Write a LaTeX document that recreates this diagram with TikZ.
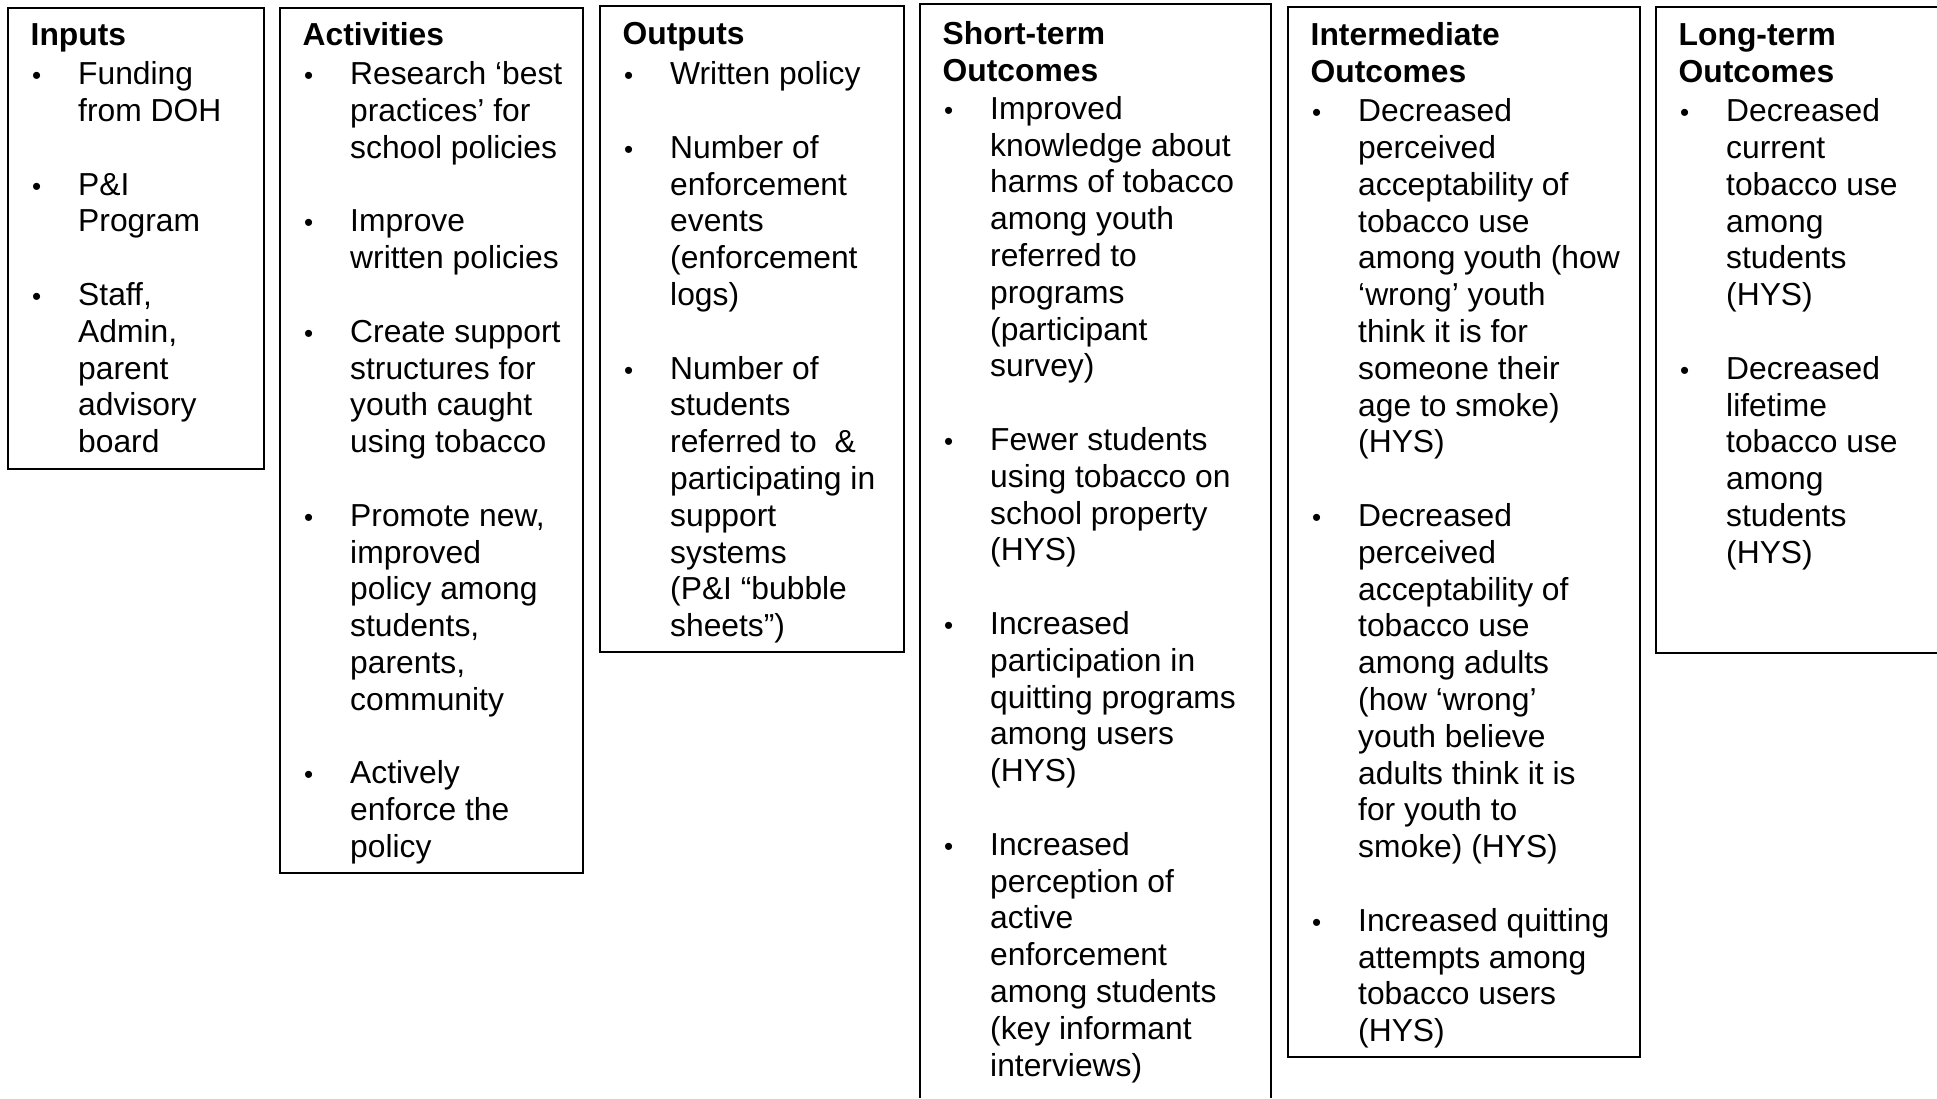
\documentclass[tikz,border=0pt]{standalone}
\usepackage{fontspec}
\setmainfont{Liberation Sans}
\newcommand\bitm{\makebox[0pt]{\fontsize{26}{26}\selectfont •}\hspace*{41.5pt}}
\newcommand\bcnt{\hspace*{41.5pt}}
\tikzset{
  box/.style={draw, line width=2.2pt},
  ttl/.style={anchor=base west, inner sep=0pt, font=\fontsize{31.8}{36.8}\selectfont\bfseries},
  itm/.style={anchor=base west, inner sep=0pt, font=\fontsize{31.8}{36.8}\selectfont}
}
\begin{document}
\begin{tikzpicture}[x=1pt,y=-1pt]
\useasboundingbox[fill=white] (0,0) rectangle (1937,1098);
% boxes
\draw[box] (8,8) rectangle (264,469);
\draw[box] (280,8) rectangle (583,873);
\draw[box] (600,6) rectangle (904,652);
\draw[box] (920,1098) -- (920,4) -- (1271,4) -- (1271,1098);
\draw[box] (1288,7) rectangle (1640,1057);
\draw[box] (1937,7) -- (1656,7) -- (1656,653) -- (1937,653);
% Inputs
\node[ttl] (inT) at (30.5,45.7) {Inputs};
\node[itm] (inL) at (36.5,84.6) {\begin{tabular}[t]{@{}l@{}}
\bitm Funding\\ \bcnt from DOH\\ \\
\bitm P\&I\\ \bcnt Program\\ \\
\bitm Staff,\\ \bcnt Admin,\\ \bcnt parent\\ \bcnt advisory\\ \bcnt board
\end{tabular}};
% Activities
\node[ttl] (acT) at (302.5,45.7) {Activities};
\node[itm] (acL) at (308.5,84.6) {\begin{tabular}[t]{@{}l@{}}
\bitm Research ‘best\\ \bcnt practices’ for\\ \bcnt school policies\\ \\
\bitm Improve\\ \bcnt written policies\\ \\
\bitm Create support\\ \bcnt structures for\\ \bcnt youth caught\\ \bcnt using tobacco\\ \\
\bitm Promote new,\\ \bcnt improved\\ \bcnt policy among\\ \bcnt students,\\ \bcnt parents,\\ \bcnt community\\ \\
\bitm Actively\\ \bcnt enforce the\\ \bcnt policy
\end{tabular}};
% Outputs
\node[ttl] (ouT) at (622.5,44.5) {Outputs};
\node[itm] (ouL) at (628.5,84.6) {\begin{tabular}[t]{@{}l@{}}
\bitm Written policy\\ \\
\bitm Number of\\ \bcnt enforcement\\ \bcnt events\\ \bcnt (enforcement\\ \bcnt logs)\\ \\
\bitm Number of\\ \bcnt students\\ \bcnt referred to\ \ \&\\ \bcnt participating in\\ \bcnt support\\ \bcnt systems\\ \bcnt (P\&I “bubble\\ \bcnt sheets”)
\end{tabular}};
% Short-term
\node[ttl] (stT) at (942.5,44.5) {\begin{tabular}[t]{@{}l@{}}Short-term\\ Outcomes\end{tabular}};
\node[itm] (stL) at (948.5,119.2) {\begin{tabular}[t]{@{}l@{}}
\bitm Improved\\ \bcnt knowledge about\\ \bcnt harms of tobacco\\ \bcnt among youth\\ \bcnt referred to\\ \bcnt programs\\ \bcnt (participant\\ \bcnt survey)\\ \\
\bitm Fewer students\\ \bcnt using tobacco on\\ \bcnt school property\\ \bcnt (HYS)\\ \\
\bitm Increased\\ \bcnt participation in\\ \bcnt quitting programs\\ \bcnt among users\\ \bcnt (HYS)\\ \\
\bitm Increased\\ \bcnt perception of\\ \bcnt active\\ \bcnt enforcement\\ \bcnt among students\\ \bcnt (key informant\\ \bcnt interviews)
\end{tabular}};
% Intermediate
\node[ttl] (imT) at (1310.5,45.7) {\begin{tabular}[t]{@{}l@{}}Intermediate\\ Outcomes\end{tabular}};
\node[itm] (imL) at (1316.5,121.7) {\begin{tabular}[t]{@{}l@{}}
\bitm Decreased\\ \bcnt perceived\\ \bcnt acceptability of\\ \bcnt tobacco use\\ \bcnt among youth (how\\ \bcnt ‘wrong’ youth\\ \bcnt think it is for\\ \bcnt someone their\\ \bcnt age to smoke)\\ \bcnt (HYS)\\ \\
\bitm Decreased\\ \bcnt perceived\\ \bcnt acceptability of\\ \bcnt tobacco use\\ \bcnt among adults\\ \bcnt (how ‘wrong’\\ \bcnt youth believe\\ \bcnt adults think it is\\ \bcnt for youth to\\ \bcnt smoke) (HYS)\\ \\
\bitm Increased quitting\\ \bcnt attempts among\\ \bcnt tobacco users\\ \bcnt (HYS)
\end{tabular}};
% Long-term
\node[ttl] (ltT) at (1678.5,45.7) {\begin{tabular}[t]{@{}l@{}}Long-term\\ Outcomes\end{tabular}};
\node[itm] (ltL) at (1684.5,121.7) {\begin{tabular}[t]{@{}l@{}}
\bitm Decreased\\ \bcnt current\\ \bcnt tobacco use\\ \bcnt among\\ \bcnt students\\ \bcnt (HYS)\\ \\
\bitm Decreased\\ \bcnt lifetime\\ \bcnt tobacco use\\ \bcnt among\\ \bcnt students\\ \bcnt (HYS)
\end{tabular}};
\end{tikzpicture}
\end{document}
